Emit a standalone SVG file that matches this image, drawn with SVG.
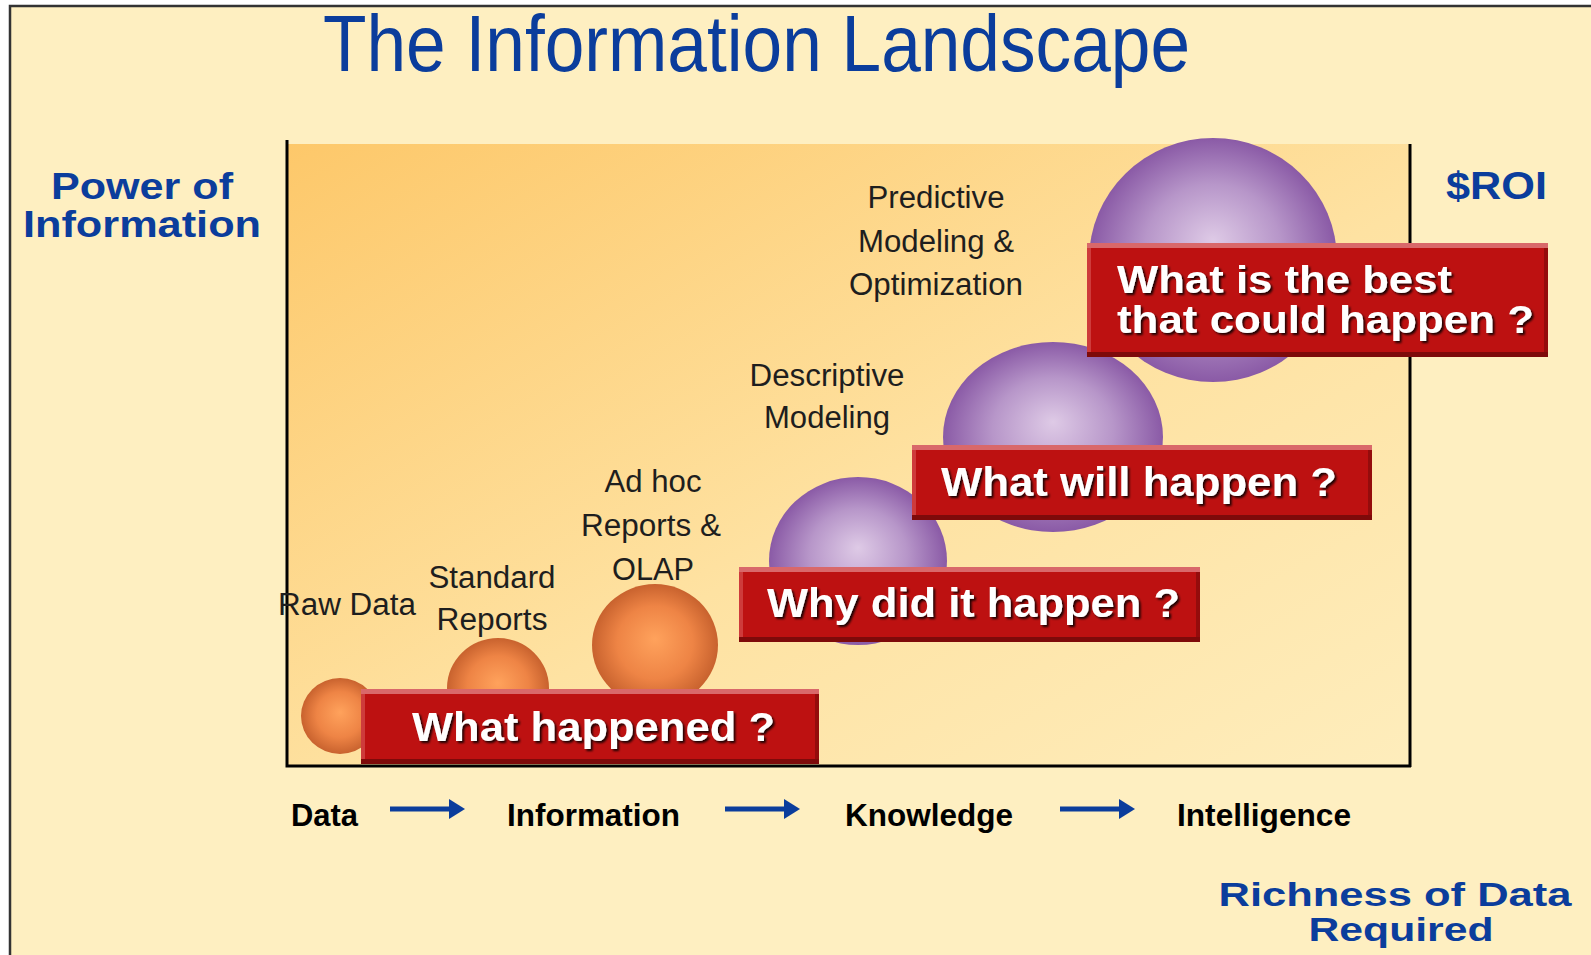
<svg xmlns="http://www.w3.org/2000/svg" width="1591" height="955" viewBox="0 0 1591 955">
<defs>
<linearGradient id="area" x1="0" y1="0" x2="1" y2="1">
<stop offset="0" stop-color="#FDC86A"/>
<stop offset="0.55" stop-color="#FEE2A2"/>
<stop offset="1" stop-color="#FEEDBC"/>
</linearGradient>
<radialGradient id="orange" cx="0.5" cy="0.5" r="0.5" fx="0.5" fy="0.45">
<stop offset="0" stop-color="#FFA25C"/>
<stop offset="0.6" stop-color="#EE8445"/>
<stop offset="1" stop-color="#C8622E"/>
</radialGradient>
<radialGradient id="purple" cx="0.5" cy="0.5" r="0.5" fx="0.5" fy="0.42">
<stop offset="0" stop-color="#DECAE6"/>
<stop offset="0.55" stop-color="#B796C9"/>
<stop offset="1" stop-color="#8A5AA6"/>
</radialGradient>
<filter id="ts" x="-5%" y="-20%" width="110%" height="150%">
<feDropShadow dx="2" dy="2" stdDeviation="0.8" flood-color="#000" flood-opacity="0.85"/>
</filter>
<marker id="ah" markerWidth="4" markerHeight="4" refX="0" refY="2" orient="auto" markerUnits="strokeWidth">
<path d="M0,0 L3.2,2 L0,4 z" fill="#0B3D9C"/>
</marker>
</defs>
<style>
.blue{font-family:"Liberation Sans",Arial,sans-serif;font-weight:bold;fill:#0B3D9C}
.gray{font-family:"Liberation Sans",Arial,sans-serif;font-size:31px;fill:#1e1e1e;text-anchor:middle}
.axis{font-family:"Liberation Sans",Arial,sans-serif;font-weight:bold;font-size:32px;fill:#000}
.btxt{font-family:"Liberation Sans",Arial,sans-serif;font-weight:bold;font-size:40px;fill:#fff;filter:url(#ts)}
.bmain{fill:#BD1111}
.btop{fill:#D9686A}
.bbot{fill:#7E0A0A}
.bleft{fill:#CE3B3B}
.bright{fill:#940C0C}
.ax{stroke:#000;stroke-width:3;fill:none}
.arr{stroke:#0B3D9C;stroke-width:5;fill:none;marker-end:url(#ah)}
</style>
<rect x="0" y="0" width="1591" height="955" fill="#fff"/>
<rect x="10" y="6" width="1581" height="949" fill="#FEEFC1"/>
<path d="M10,955 V6 H1591" stroke="#333" stroke-width="2.5" fill="none"/>

<g id="title"><text class="blue" x="323" y="71" font-size="79" style="font-weight:normal" textLength="867" lengthAdjust="spacingAndGlyphs">The Information Landscape</text></g>

<g id="chart">
<rect x="287" y="144" width="1123" height="622" fill="url(#area)"/>
<path class="ax" d="M287,140 V766 H1411"/>
<path class="ax" d="M1410,144 V767"/>
</g>

<g id="y-label"><text class="blue" font-size="37" text-anchor="middle"><tspan x="142" y="199" textLength="182" lengthAdjust="spacingAndGlyphs">Power of</tspan><tspan x="142" y="237" textLength="238" lengthAdjust="spacingAndGlyphs">Information</tspan></text></g>
<g id="roi"><text class="blue" x="1446" y="199" font-size="39" textLength="101" lengthAdjust="spacingAndGlyphs">$ROI</text></g>
<g id="x-label"><text class="blue" font-size="34" text-anchor="middle"><tspan x="1395" y="906" textLength="353" lengthAdjust="spacingAndGlyphs">Richness of Data</tspan><tspan x="1401" y="941" textLength="185" lengthAdjust="spacingAndGlyphs">Required</tspan></text></g>

<g id="sphere-raw"><ellipse cx="340" cy="716" rx="39" ry="38" fill="url(#orange)"/></g>
<g id="sphere-standard"><ellipse cx="498" cy="688" rx="51" ry="50" fill="url(#orange)"/></g>
<g id="sphere-olap"><ellipse cx="655" cy="645" rx="63" ry="61" fill="url(#orange)"/></g>
<g id="sphere-why"><ellipse cx="858" cy="561" rx="89" ry="84" fill="url(#purple)"/></g>
<g id="sphere-will"><ellipse cx="1053" cy="437" rx="110" ry="95" fill="url(#purple)"/></g>
<g id="sphere-best"><ellipse cx="1213" cy="260" rx="124" ry="122" fill="url(#purple)"/></g>

<g id="label-predictive"><text class="gray"><tspan x="936" y="208" textLength="137" lengthAdjust="spacingAndGlyphs">Predictive</tspan><tspan x="936" y="252" textLength="156" lengthAdjust="spacingAndGlyphs">Modeling &amp;</tspan><tspan x="936" y="295" textLength="174" lengthAdjust="spacingAndGlyphs">Optimization</tspan></text></g>
<g id="label-descriptive"><text class="gray"><tspan x="827" y="386" textLength="155" lengthAdjust="spacingAndGlyphs">Descriptive</tspan><tspan x="827" y="428" textLength="126" lengthAdjust="spacingAndGlyphs">Modeling</tspan></text></g>
<g id="label-adhoc"><text class="gray"><tspan x="653" y="492" textLength="97" lengthAdjust="spacingAndGlyphs">Ad hoc</tspan><tspan x="651" y="536" textLength="140" lengthAdjust="spacingAndGlyphs">Reports &amp;</tspan><tspan x="653" y="580" textLength="82" lengthAdjust="spacingAndGlyphs">OLAP</tspan></text></g>
<g id="label-standard"><text class="gray"><tspan x="492" y="588" textLength="127" lengthAdjust="spacingAndGlyphs">Standard</tspan><tspan x="492" y="630" textLength="111" lengthAdjust="spacingAndGlyphs">Reports</tspan></text></g>
<g id="label-raw"><text class="gray" x="347" y="615" textLength="138" lengthAdjust="spacingAndGlyphs">Raw Data</text></g>

<g id="box-happened">
<rect class="bmain" x="361" y="689" width="458" height="75"/>
<rect class="bleft" x="361" y="689" width="4" height="75"/>
<rect class="bright" x="815" y="689" width="4" height="75"/>
<rect class="btop" x="361" y="689" width="458" height="5"/>
<rect class="bbot" x="361" y="759" width="458" height="5"/>
<text class="btxt" x="412" y="741" textLength="363" lengthAdjust="spacingAndGlyphs">What happened ?</text>
</g>
<g id="box-why">
<rect class="bmain" x="739" y="567" width="461" height="75"/>
<rect class="bleft" x="739" y="567" width="4" height="75"/>
<rect class="bright" x="1196" y="567" width="4" height="75"/>
<rect class="btop" x="739" y="567" width="461" height="5"/>
<rect class="bbot" x="739" y="637" width="461" height="5"/>
<text class="btxt" x="767" y="617" textLength="413" lengthAdjust="spacingAndGlyphs">Why did it happen ?</text>
</g>
<g id="box-will">
<rect class="bmain" x="912" y="445" width="460" height="75"/>
<rect class="bleft" x="912" y="445" width="4" height="75"/>
<rect class="bright" x="1368" y="445" width="4" height="75"/>
<rect class="btop" x="912" y="445" width="460" height="5"/>
<rect class="bbot" x="912" y="515" width="460" height="5"/>
<text class="btxt" x="941" y="496" textLength="396" lengthAdjust="spacingAndGlyphs">What will happen ?</text>
</g>
<g id="box-best">
<rect class="bmain" x="1087" y="243" width="461" height="114"/>
<rect class="bleft" x="1087" y="243" width="4" height="114"/>
<rect class="bright" x="1544" y="243" width="4" height="114"/>
<rect class="btop" x="1087" y="243" width="461" height="5"/>
<rect class="bbot" x="1087" y="352" width="461" height="5"/>
<text class="btxt" style="font-size:38px"><tspan x="1117" y="293" textLength="335" lengthAdjust="spacingAndGlyphs">What is the best</tspan><tspan x="1117" y="333" textLength="417" lengthAdjust="spacingAndGlyphs">that could happen ?</tspan></text>
</g>

<g id="stage-data"><text class="axis" x="291" y="826" textLength="67" lengthAdjust="spacingAndGlyphs">Data</text></g>
<g id="stage-information"><text class="axis" x="507" y="826" textLength="173" lengthAdjust="spacingAndGlyphs">Information</text></g>
<g id="stage-knowledge"><text class="axis" x="845" y="826" textLength="168" lengthAdjust="spacingAndGlyphs">Knowledge</text></g>
<g id="stage-intelligence"><text class="axis" x="1177" y="826" textLength="174" lengthAdjust="spacingAndGlyphs">Intelligence</text></g>

<g id="connectors">
<path class="arr" d="M390,809 H449"/>
<path class="arr" d="M725,809 H784"/>
<path class="arr" d="M1060,809 H1119"/>
</g>
</svg>
